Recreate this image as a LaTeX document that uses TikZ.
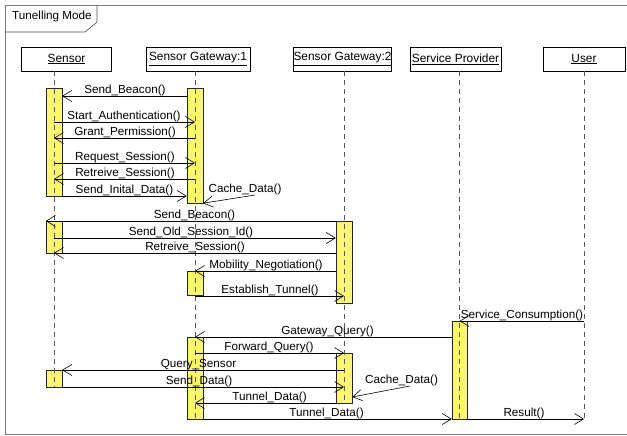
\documentclass[tikz,border=0pt]{standalone}
\usepackage{fontspec}
\setmainfont{Liberation Sans}
\usepackage{tikz}
\usetikzlibrary{arrows.meta}
\definecolor{actyellow}{RGB}{250,245,115}
\definecolor{framegray}{RGB}{125,125,125}
\tikzset{
  obj/.style={draw=black, fill=white, minimum height=24pt, inner sep=0pt, font=\fontsize{11.9}{13}\selectfont},
  act/.style={draw=black!85, fill=actyellow, minimum width=16pt, inner sep=0pt},
  life/.style={draw=black!65, line width=0.7pt, dash pattern=on 5pt off 4pt},
  msg/.style={draw=black, line width=0.6pt, -{Straight Barb[length=9pt,width=11pt]}},
  lbl/.style={anchor=base, inner sep=0pt, font=\fontsize{11.7}{13}\selectfont}
}
\begin{document}
\begin{tikzpicture}[x=1pt,y=-1pt]
\useasboundingbox (0,0) rectangle (627,436);

% to draw the frame and its tab
\draw [framegray, line width=0.8pt] (627,5) -- (5,5) -- (5,434) -- (627,434);
\draw [black!70, line width=0.6pt] (5,32) -- (85,32) -- (97,22) -- (97,5);
\node [lbl, anchor=base west] (title) at (12,20) {Tunelling Mode};

% to write entities
\node [obj, minimum width=90pt] (sen) at (66.5,59) {\underline{Sensor}};
\node [obj, minimum width=104pt] (gwa) at (198,59) {\underline{Sensor Gateway:1}};
\node [obj, minimum width=97pt] (gwb) at (342.5,59) {\underline{Sensor Gateway:2}};
\node [obj, minimum width=91pt] (spr) at (455.5,59) {\underline{Service Provider}};
\node [obj, minimum width=82pt] (usr) at (584,59) {\underline{User}};

% to draw activation bars
\node [act, minimum height=108pt] (senA) at (54,142) {};
\node [act, minimum height=115pt] (gwaA) at (195,145.5) {};
\node [act, minimum height=32pt] (senB) at (54,237) {};
\node [act, minimum height=82pt] (gwbA) at (344,262) {};
\node [act, minimum height=24pt] (gwaB) at (195,283) {};
\node [act, minimum width=15pt, minimum height=98pt] (sprA) at (459.5,370) {};
\node [act, minimum height=82pt] (gwaC) at (195,378) {};
\node [act, minimum height=50pt] (gwbB) at (344,378) {};
\node [act, minimum height=17pt] (senC) at (54,378.5) {};

% to draw dashed lifelines
\draw [life] (sen.south -| senA) -- (senC.south);
\draw [life] (gwa.south -| gwaA) -- (gwaC.south);
\draw [life] (gwb.south -| gwbA) -- (gwbB.south);
\draw [life] (spr.south -| sprA) -- (sprA.south);
\draw [life] (usr.south) -- (usr |- sprA.south);

% free ends of the two Cache_Data() messages
\coordinate (cacheA) at (255,195);
\coordinate (cacheB) at (410,386);

% Sensor with Sensor Gateway:1
\draw [msg] (gwaA.west |- 0,96) -- (senA.east |- 0,96);
\node [lbl] (m1) at (125,93.5) {Send\_Beacon()};
\draw [msg] (senA |- 0,122) -- (gwaA |- 0,122);
\node [lbl] (m2) at (124,119.5) {Start\_Authentication()};
\draw [msg] (gwaA |- 0,138) -- (senA |- 0,138);
\node [lbl] (m3) at (125,135.5) {Grant\_Permission()};
\draw [msg] (senA |- 0,163) -- (gwaA |- 0,163);
\node [lbl] (m4) at (125,160.5) {Request\_Session()};
\draw [msg] (gwaA |- 0,179) -- (senA |- 0,179);
\node [lbl] (m5) at (125,176.5) {Retreive\_Session()};
\draw [msg] (senA.east |- 0,196) -- (gwaA.west |- 0,196);
\node [lbl] (m6) at (124.5,193.5) {Send\_Inital\_Data()};
\draw [msg] (cacheA) -- (gwaA.south east);
\node [lbl] (m7) at (245,192) {Cache\_Data()};

% handover to Sensor Gateway:2
\draw [msg] (gwbA.west |- 0,221) -- (senB.west |- 0,221);
\node [lbl] (m8) at (194.5,218) {Send\_Beacon()};
\draw [msg] (senB |- 0,238) -- (gwbA.west |- 0,238);
\node [lbl] (m9) at (191,235) {Send\_Old\_Session\_Id()};
\draw [msg] (gwbA.west |- 0,253) -- (senB |- 0,253);
\node [lbl] (m10) at (195,250) {Retreive\_Session()};
\draw [msg] (gwbA.west |- 0,271) -- (gwaB |- 0,271);
\node [lbl] (m11) at (266,268) {Mobility\_Negotiation()};
\draw [msg] (gwaB |- 0,296) -- (gwbA |- 0,296);
\node [lbl] (m12) at (270,293) {Establish\_Tunnel()};

% query through the tunnel
\draw [msg] (usr |- 0,321) -- (sprA |- 0,321);
\node [lbl] (m13) at (522,318) {Service\_Consumption()};
\draw [msg] (sprA.west |- 0,337) -- (gwaC |- 0,337);
\node [lbl] (m14) at (327.5,334) {Gateway\_Query()};
\draw [msg] (gwaC |- 0,353) -- (gwbB |- 0,353);
\node [lbl] (m15) at (269,350) {Forward\_Query()};
\draw [msg] (gwbB |- 0,370) -- (senC.east |- 0,370);
\node [lbl] (m16) at (198.5,367) {Query\_Sensor};
\draw [msg] (senC.east |- 0,387) -- (gwbB |- 0,387);
\node [lbl] (m17) at (199,384) {Send\_Data()};
\draw [msg] (cacheB) -- (gwbB.east |- 0,397);
\node [lbl] (m18) at (401.5,383.5) {Cache\_Data()};
\draw [msg] (gwbB.west |- 0,403) -- (gwaC |- 0,403);
\node [lbl] (m19) at (269.5,400) {Tunnel\_Data()};
\draw [msg] (gwaC.east |- 0,419) -- (sprA.west |- 0,419);
\node [lbl] (m20) at (326.5,416) {Tunnel\_Data()};
\draw [msg] (sprA.east |- 0,419) -- (usr |- 0,419);
\node [lbl] (m21) at (524,416) {Result()};
\end{tikzpicture}
\end{document}
